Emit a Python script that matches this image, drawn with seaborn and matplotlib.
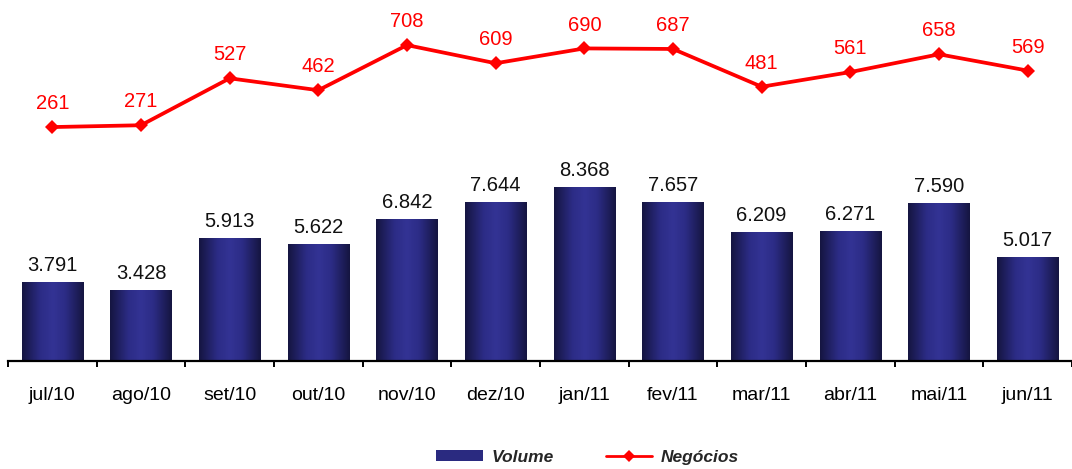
import numpy as np
import pandas as pd
import matplotlib
matplotlib.use("Agg")
import matplotlib.pyplot as plt
import seaborn as sns
from matplotlib.patches import Patch
from matplotlib.lines import Line2D
from matplotlib.colors import LinearSegmentedColormap

months = ["jul/10", "ago/10", "set/10", "out/10", "nov/10", "dez/10",
          "jan/11", "fev/11", "mar/11", "abr/11", "mai/11", "jun/11"]
volume = [3.791, 3.428, 5.913, 5.622, 6.842, 7.644, 8.368, 7.657, 6.209, 6.271, 7.590, 5.017]
negocios = [261, 271, 527, 462, 708, 609, 690, 687, 481, 561, 658, 569]

sns.set_theme(style="white")
plt.rcParams['font.family'] = ['Liberation Sans', 'DejaVu Sans']

df = pd.DataFrame({"mes": months, "volume": volume, "negocios": negocios})

fig = plt.figure(figsize=(10.72, 4.69), dpi=100)
ax = fig.add_axes([8/1072, (469-361)/469, 1064/1072, (361-20)/469])

sns.barplot(data=df, x="mes", y="volume", ax=ax, width=0.69, color="#2a2a80",
            saturation=1, edgecolor="none")

# gradient fill clipped to bars
cmap = LinearSegmentedColormap.from_list(
    "cyl", [(0.0, "#151540"), (0.3, "#2c2c86"), (0.5, "#333394"), (0.7, "#2c2c86"), (1.0, "#151540")])
grad = np.linspace(0, 1, 256).reshape(1, -1)
for p in ax.patches:
    x0, y0 = p.get_x(), p.get_y()
    w, h = p.get_width(), p.get_height()
    im = ax.imshow(grad, cmap=cmap, extent=[x0, x0 + w, y0, y0 + h],
                   aspect="auto", zorder=2, interpolation="bicubic")
    im.set_clip_path(p)
    p.set_facecolor("none")

ax.set_xlim(-0.5, 11.5)
ax.set_ylim(0, 16.39)

for i, v in enumerate(volume):
    ax.annotate(f"{v:.3f}", (i, v), xytext=(0, 5), textcoords="offset points",
                ha="center", va="bottom", fontsize=14.5, color="#111111")

ax2 = ax.twinx()
sns.lineplot(x=np.arange(len(months)), y=negocios, ax=ax2, color="#ff0000",
             linewidth=2.7, marker="D", markersize=7.5, markeredgewidth=0)
ax2.set_ylim(-1015, 845)
for i, v in enumerate(negocios):
    ax2.annotate(f"{v}", (i, v), xytext=(0, 10), textcoords="offset points",
                 ha="center", va="bottom", fontsize=14.5, color="#ff0000")
ax2.set_yticks([])
ax2.set_ylabel("")

for a in (ax, ax2):
    for s in ["top", "right", "left", "bottom"]:
        a.spines[s].set_visible(False)
ax.spines["bottom"].set_visible(True)
ax.spines["bottom"].set_color("black")
ax.spines["bottom"].set_linewidth(1.6)

ax.set_yticks([])
ax.set_ylabel("")
ax.set_xlabel("")
ax.set_xticks(range(len(months)))
ax.set_xticklabels(months, fontsize=14)
ax.tick_params(axis="x", which="major", length=0, pad=19, colors="black")
ax.set_xticks(np.arange(-0.5, 12, 1.0), minor=True)
ax.tick_params(axis="x", which="minor", length=4, width=1.4, color="black", bottom=True)

handles = [Patch(facecolor="#2a2a80", edgecolor="none"),
           Line2D([0], [0], color="#ff0000", lw=2, marker="D", markersize=6, markeredgewidth=0)]
fig.legend(handles, ["Volume", "Negócios"], loc="lower center", bbox_to_anchor=(0.548, -0.025),
           ncol=2, frameon=False, prop={"weight": "bold", "style": "italic", "size": 12.5},
           handlelength=2.7, handleheight=0.6, columnspacing=3, handletextpad=0.5)

fig.savefig("out.png", dpi=100)
